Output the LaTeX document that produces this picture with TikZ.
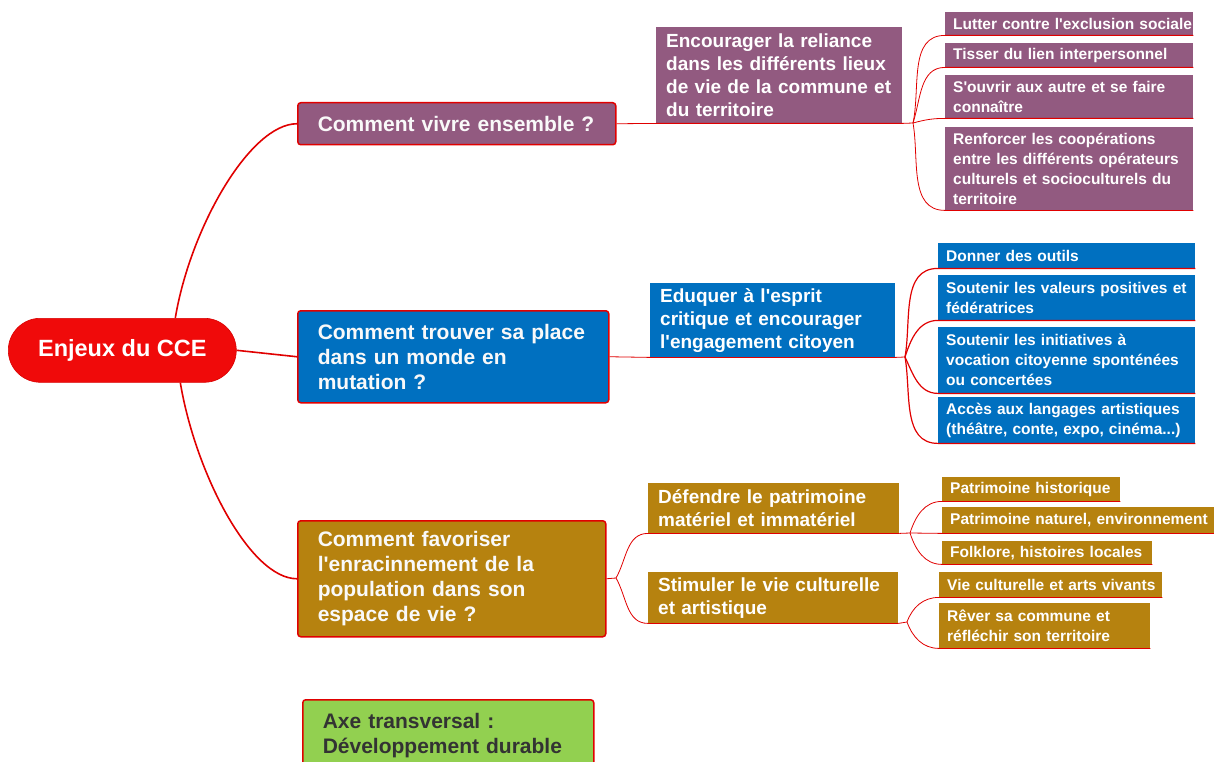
\documentclass[tikz,border=0pt]{standalone}
\usepackage{fontspec}
\newfontfamily\lsans{Liberation Sans}
\definecolor{linered}{HTML}{E00000}
\definecolor{rootred}{HTML}{F00A0A}
\definecolor{purp}{HTML}{925A80}
\definecolor{blu}{HTML}{0070C0}
\definecolor{gold}{HTML}{B6820F}
\definecolor{grn}{HTML}{92D050}
\definecolor{axtext}{HTML}{333333}
\begin{document}
\begin{tikzpicture}[x=1pt,y=-1pt,
  rootbox/.style={fill=rootred, draw=red!85!black, line width=0.6pt, rounded corners=32pt,
    text=white, font=\lsans\bfseries\fontsize{23.5}{28}\selectfont,
    minimum width=228pt, minimum height=64pt, inner sep=0pt, anchor=north west},
  topbox/.style={draw=linered, line width=1.5pt, rounded corners=3pt, text=white!95!gray,
    font=\lsans\bfseries\fontsize{21}{25}\selectfont, align=left, inner xsep=20pt, inner ysep=0pt,
    anchor=north west},
  midbox/.style={text=white, font=\lsans\bfseries\fontsize{19}{23}\selectfont, align=left,
    inner xsep=10pt, inner ysep=0pt, anchor=north west},
  leafbox/.style={text=white, font=\lsans\bfseries\fontsize{15.5}{20}\selectfont, align=left,
    inner xsep=8pt, inner ysep=0pt, anchor=north west},
  conn/.style={draw=linered, line width=0.8pt},
  rootconn/.style={draw=linered, line width=1.6pt},
]
\useasboundingbox (0,0) rectangle (1214,762);
\clip (0,0) rectangle (1214,762);

% root
\node[rootbox] (root) at (8,318) {Enjeux du CCE};

% top level
\node[topbox, fill=purp, text width=278pt, minimum height=42pt] (cv) at (297,102) {Comment vivre ensemble ?};
\node[topbox, fill=blu, text width=271pt, minimum height=92pt] (ct) at (297,310) {Comment trouver sa place\\dans un monde en\\mutation ?};
\node[topbox, fill=gold, text width=268pt, minimum height=116pt] (cf) at (297,520) {Comment favoriser\\l'enracinnement de la\\population dans son\\espace de vie ?};
\node[topbox, fill=grn, text=axtext, text width=251pt, minimum height=72pt] (ax) at (302,699) {Axe transversal :\\Développement durable};

% root connectors
\draw[rootconn] ([xshift=53pt]root.north) .. controls +(15,-90) and +(-47,0) .. (cv.west);
\draw[rootconn] (root.east) -- (ct.west);
\draw[rootconn] ([xshift=58pt]root.south) .. controls +(15,90) and +(-47,0) .. (cf.west);

% purple branch
\node[midbox, fill=purp, text width=226pt, minimum height=96pt] (enc) at (656,27) {Encourager la reliance\\dans les différents lieux\\\mbox{de vie de la commune et}\\du territoire};
\node[leafbox, fill=purp, text width=232pt, minimum height=23pt] (p1) at (945,12) {\mbox{Lutter contre l'exclusion sociale}};
\node[leafbox, fill=purp, text width=232pt, minimum height=24pt] (p2) at (945,43) {Tisser du lien interpersonnel};
\node[leafbox, fill=purp, text width=232pt, minimum height=43pt] (p3) at (945,75) {S'ouvrir aux autre et se faire\\connaître};
\node[leafbox, fill=purp, text width=232pt, minimum height=83pt] (p4) at (945,127) {Renforcer les coopérations\\\mbox{entre les différents opérateurs}\\\mbox{culturels et socioculturels du}\\territoire};
\coordinate (bA) at (913,123);
\draw[conn] (cv.east) -- (enc.south west) -- (enc.south east) -- (bA);
\draw[conn] (bA) to[out=78,in=180] (p1.south west) -- (p1.south east);
\draw[conn] (bA) to[out=72,in=180] (p2.south west) -- (p2.south east);
\draw[conn] (bA) to[out=15,in=180] (p3.south west) -- (p3.south east);
\draw[conn] (bA) to[out=-80,in=180] (p4.south west) -- (p4.south east);

% blue branch
\node[midbox, fill=blu, text width=225pt, minimum height=74pt] (edu) at (650,283) {Eduquer à l'esprit\\critique et encourager\\l'engagement citoyen};
\node[leafbox, fill=blu, text width=241pt, minimum height=25pt] (b1) at (938,243) {Donner des outils};
\node[leafbox, fill=blu, text width=241pt, minimum height=45pt] (b2) at (938,275) {\mbox{Soutenir les valeurs positives et}\\fédératrices};
\node[leafbox, fill=blu, text width=241pt, minimum height=66pt] (b3) at (938,327) {Soutenir les initiatives à\\\mbox{vocation citoyenne sponténées}\\ou concertées};
\node[leafbox, fill=blu, text width=241pt, minimum height=46pt] (b4) at (938,397) {\mbox{Accès aux langages artistiques}\\\mbox{(théâtre, conte, expo, cinéma...)}};
\coordinate (bB) at (905,357);
\draw[conn] (ct.east) -- (edu.south west) -- (edu.south east) -- (bB);
\draw[conn, line width=1.2pt] (bB) to[out=80,in=180] (b1.south west) -- (b1.south east);
\draw[conn, line width=1.2pt] (bB) to[out=72,in=180] (b2.south west) -- (b2.south east);
\draw[conn, line width=1.2pt] (bB) to[out=-65,in=180] (b3.south west) -- (b3.south east);
\draw[conn, line width=1.2pt] (bB) to[out=-80,in=180] (b4.south west) -- (b4.south east);

% gold branch
\node[midbox, fill=gold, text width=231pt, minimum height=50pt] (def) at (648,483) {Défendre le patrimoine\\matériel et immatériel};
\node[midbox, fill=gold, text width=230pt, minimum height=51pt] (sti) at (648,572) {Stimuler le vie culturelle\\et artistique};
\coordinate (bC) at (616,578);
\draw[conn] (cf.east) -- (bC);
\draw[conn] (bC) to[out=60,in=180] (def.south west) -- (def.south east);
\draw[conn] (bC) to[out=-60,in=180] (sti.south west) -- (sti.south east);

\node[leafbox, fill=gold, text width=162pt, minimum height=24pt] (g1) at (942,477) {Patrimoine historique};
\node[leafbox, fill=gold, text width=256pt, minimum height=26pt] (g2) at (942,507) {\mbox{Patrimoine naturel, environnement}};
\node[leafbox, fill=gold, text width=194pt, minimum height=23pt] (g3) at (942,541) {Folklore, histoires locales};
\coordinate (bD) at (910,533);
\draw[conn] (def.south east) -- (bD);
\draw[conn] (bD) to[out=72,in=180] (g1.south west) -- (g1.south east);
\draw[conn] (bD) -- (g2.south west) -- (g2.south east);
\draw[conn] (bD) to[out=-72,in=180] (g3.south west) -- (g3.south east);

\node[leafbox, fill=gold, text width=207pt, minimum height=25pt] (g4) at (939,572) {\mbox{Vie culturelle et arts vivants}};
\node[leafbox, fill=gold, text width=195pt, minimum height=45pt] (g5) at (939,603) {Rêver sa commune et\\réfléchir son territoire};
\coordinate (bE) at (907,622);
\draw[conn] (sti.south east) -- (bE);
\draw[conn] (bE) to[out=70,in=180] (g4.south west) -- (g4.south east);
\draw[conn] (bE) to[out=-70,in=180] (g5.south west) -- (g5.south east);
\end{tikzpicture}
\end{document}
